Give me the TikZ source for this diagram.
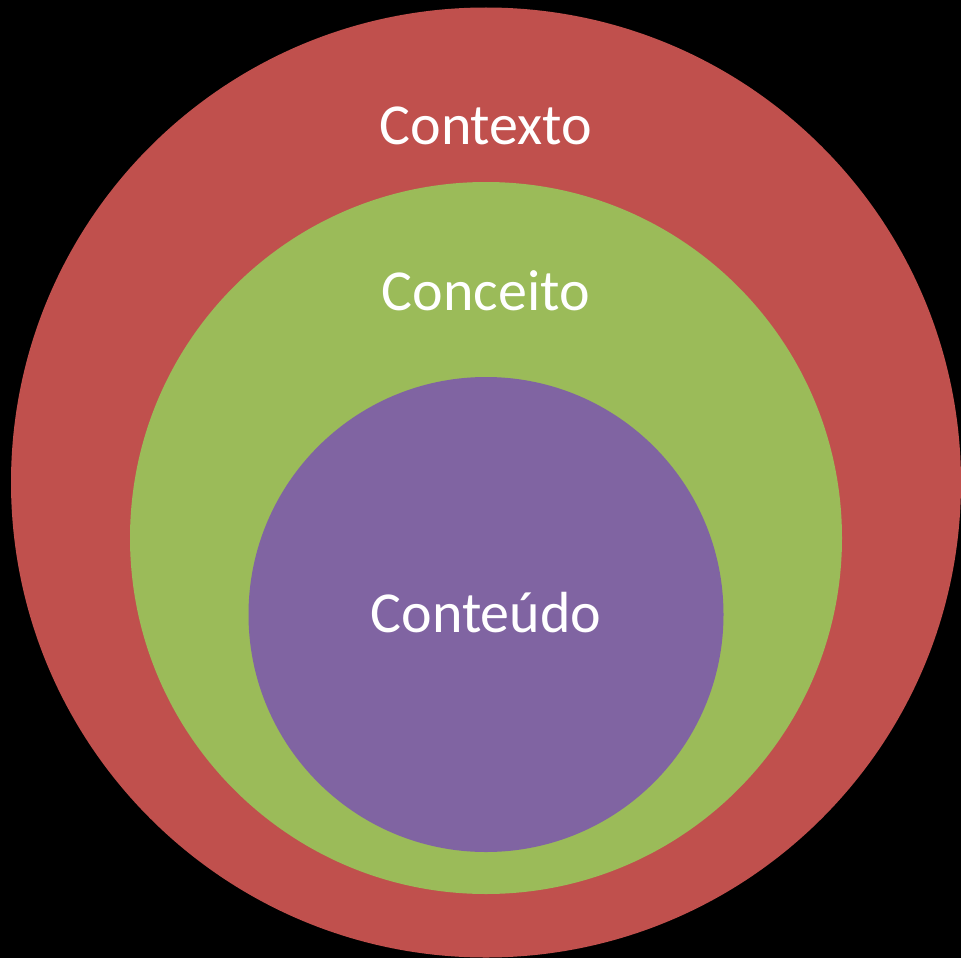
\documentclass[tikz,border=0pt]{standalone}
\usepackage{fontspec}
\setmainfont{Carlito}
\definecolor{ctxred}{HTML}{C0504D}
\definecolor{cptgreen}{HTML}{9BBB59}
\definecolor{ctdpurple}{HTML}{8064A2}
\begin{document}
\begin{tikzpicture}[x=1pt,y=-1pt,
  lbl/.style={text=white,font=\fontsize{58}{62}\selectfont,anchor=base,inner sep=0pt}]
\useasboundingbox (0,0) rectangle (961,958);
\fill[black] (0,0) rectangle (961,958);
\begin{scope}
\clip (0,0) rectangle (961,958);
\fill[ctxred] (486,482.5) circle[radius=475];
\fill[cptgreen] (486,538) circle[radius=356];
\fill[ctdpurple] (486,614.5) circle[radius=237.5];
\end{scope}
\node[lbl] (ctx) at (486,144) {Contexto};
\node[lbl] (cpt) at (486,310) {Conceito};
\node[lbl] (ctd) at (486,632) {Conteúdo};
\end{tikzpicture}
\end{document}
